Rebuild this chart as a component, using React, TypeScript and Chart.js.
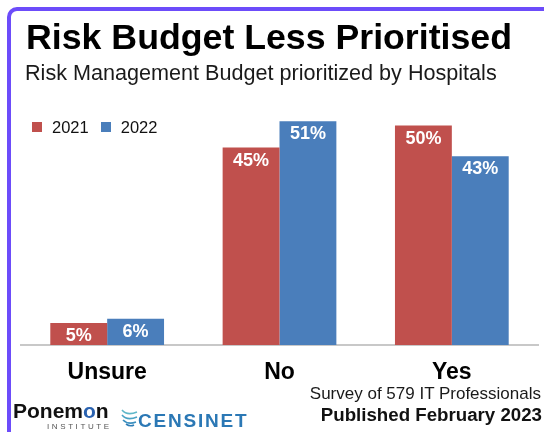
import React, { useEffect, useRef } from "react";
import { Chart, registerables } from "chart.js";

Chart.register(...registerables);

const categories = ["Unsure", "No", "Yes"];
const seriesLabels = ["2021", "2022"];
const values2021 = [5, 45, 50];
const values2022 = [6, 51, 43];
const seriesColors = ["#c0504d", "#4a7ebb"];
const titleText = "Risk Budget Less Prioritised";
const subtitleText = "Risk Management Budget prioritized by Hospitals";
const footerLine1 = "Survey of 579 IT Professionals";
const footerLine2 = "Published February 2023";

const FONT = "'Liberation Sans', Arial, Helvetica, sans-serif";

const valueLabelPlugin = {
  id: "valueLabels",
  afterDatasetsDraw(chart: any) {
    const ctx = chart.ctx;
    ctx.save();
    ctx.font = `bold 18px ${FONT}`;
    ctx.fillStyle = "#ffffff";
    ctx.textAlign = "center";
    ctx.textBaseline = "middle";
    chart.data.datasets.forEach((ds: any, i: number) => {
      const meta = chart.getDatasetMeta(i);
      meta.data.forEach((bar: any, j: number) => {
        ctx.fillText(`${ds.data[j]}%`, bar.x, bar.y + 13);
      });
    });
    ctx.restore();
  },
};

export default function App() {
  const canvasRef = useRef<HTMLCanvasElement | null>(null);

  useEffect(() => {
    if (!canvasRef.current) return;
    const chart = new Chart(canvasRef.current, {
      type: "bar",
      data: {
        labels: categories,
        datasets: [
          {
            label: seriesLabels[0],
            data: values2021,
            backgroundColor: seriesColors[0],
            categoryPercentage: 0.66,
            barPercentage: 1,
          },
          {
            label: seriesLabels[1],
            data: values2022,
            backgroundColor: seriesColors[1],
            categoryPercentage: 0.66,
            barPercentage: 1,
          },
        ],
      },
      options: {
        responsive: false,
        animation: false,
        layout: { padding: { left: 0, right: 6, top: 0, bottom: 31.4 } },
        plugins: {
          legend: { display: false },
          tooltip: { enabled: false },
          title: {
            display: true,
            text: titleText,
            color: "#000",
            font: { family: FONT, size: 35.7, weight: "bold" },
            padding: { top: 18, bottom: 47.2 },
          },
        },
        scales: {
          x: {
            grid: { display: false, drawTicks: false },
            border: { display: true, color: "#c8c8c8", width: 2 },
            ticks: {
              color: "#000",
              font: { family: FONT, size: 23, weight: "bold" },
              padding: 14,
            },
          },
          y: {
            display: true,
            min: 0,
            max: 54,
            grid: { display: false, drawTicks: false },
            border: { display: false },
            ticks: { display: false },
            afterFit(scale: any) {
              scale.width = 21;
            },
          },
        },
      },
      plugins: [valueLabelPlugin],
    });
    return () => chart.destroy();
  }, []);

  return (
    <div
      style={{
        position: "fixed",
        left: 0,
        top: 0,
        width: 544,
        height: 432,
        background: "#fff",
        overflow: "hidden",
        fontFamily: FONT,
      }}
    >
      <canvas
        ref={canvasRef}
        width={544}
        height={432}
        style={{ position: "absolute", left: 0, top: 0, width: 544, height: 432 }}
      />
      <div
        style={{
          position: "absolute",
          left: 7,
          top: 7,
          width: 580,
          height: 460,
          border: "4px solid #6c4cfa",
          borderRadius: 10,
          boxSizing: "border-box",
          pointerEvents: "none",
        }}
      />
      <div
        style={{
          position: "absolute",
          left: 25,
          top: 61.5,
          fontSize: 21.6,
          lineHeight: "21.6px",
          color: "#1a1a1a",
          whiteSpace: "nowrap",
        }}
      >
        {subtitleText}
      </div>
      <div
        style={{
          position: "absolute",
          left: 32,
          top: 118,
          display: "flex",
          alignItems: "center",
          fontSize: 16.5,
          lineHeight: "18px",
          color: "#111",
        }}
      >
        {seriesLabels.map((lab, i) => (
          <div key={lab} style={{ display: "flex", alignItems: "center", marginRight: 12 }}>
            <span
              style={{
                display: "inline-block",
                width: 10,
                height: 10,
                background: seriesColors[i],
                marginRight: 10,
              }}
            />
            <span>{lab}</span>
          </div>
        ))}
      </div>
      <div
        style={{
          position: "absolute",
          right: 3,
          top: 385,
          fontSize: 17,
          lineHeight: "17px",
          color: "#1a1a1a",
          textAlign: "right",
          whiteSpace: "nowrap",
        }}
      >
        {footerLine1}
      </div>
      <div
        style={{
          position: "absolute",
          right: 2,
          top: 405.5,
          fontSize: 18.7,
          lineHeight: "18.7px",
          fontWeight: "bold",
          color: "#111",
          textAlign: "right",
          whiteSpace: "nowrap",
        }}
      >
        {footerLine2}
      </div>
      <div
        style={{
          position: "absolute",
          left: 13,
          top: 400,
          fontSize: 21,
          lineHeight: "21px",
          fontWeight: "bold",
          color: "#111",
          whiteSpace: "nowrap",
        }}
      >
        Ponem<span style={{ color: "#2a62b0" }}>o</span>n
      </div>
      <div
        style={{
          position: "absolute",
          left: 47,
          top: 423,
          fontSize: 8,
          lineHeight: "8px",
          letterSpacing: 2.6,
          color: "#555",
          whiteSpace: "nowrap",
        }}
      >
        INSTITUTE
      </div>
      <svg
        style={{ position: "absolute", left: 121, top: 406 }}
        width={17}
        height={22}
        viewBox="0 0 17 22"
      >
        <path d="M1 4 Q6 10 16 6" stroke="#5fb8c9" strokeWidth="1.6" fill="none" />
        <path d="M1 9 Q6 15 16 11" stroke="#4aa3c4" strokeWidth="1.6" fill="none" />
        <path d="M2 14 Q7 19 15 16" stroke="#3b8fbf" strokeWidth="1.6" fill="none" />
        <path d="M5 18 Q9 21 13 19" stroke="#2f7db6" strokeWidth="1.6" fill="none" />
      </svg>
      <div
        style={{
          position: "absolute",
          left: 138,
          top: 411,
          fontSize: 19,
          lineHeight: "19px",
          fontWeight: "bold",
          letterSpacing: 1.8,
          color: "#2b78b5",
          whiteSpace: "nowrap",
        }}
      >
        CENSINET
      </div>
    </div>
  );
}
